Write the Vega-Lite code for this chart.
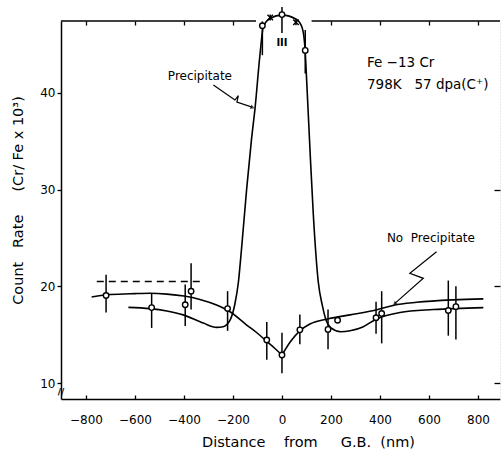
{
  "$schema": "https://vega.github.io/schema/vega-lite/v6.json",
  "width": 439,
  "height": 378,
  "autosize": {"type": "none"},
  "padding": {"left": 61, "top": 21, "right": 1, "bottom": 57},
  "background": "white",
  "config": {
    "view": {"stroke": null},
    "font": "DejaVu Sans",
    "axis": {"domainColor": "black", "tickColor": "black", "labelColor": "black", "titleColor": "black", "grid": false, "domainWidth": 1.5, "tickWidth": 1.3}
  },
  "datasets": {
    "curves": [
      {"s": "npl", "d": -777, "r": 18.9}, {"s": "npl", "d": -700, "r": 19.15}, {"s": "npl", "d": -600, "r": 19.25}, {"s": "npl", "d": -540, "r": 19.28}, {"s": "npl", "d": -470, "r": 19.2}, {"s": "npl", "d": -400, "r": 19.0}, {"s": "npl", "d": -335, "r": 18.65}, {"s": "npl", "d": -267, "r": 18.07}, {"s": "npl", "d": -212, "r": 17.37}, {"s": "npl", "d": -144, "r": 16.0}, {"s": "npl", "d": -100, "r": 15.15}, {"s": "npl", "d": -62, "r": 14.3}, {"s": "npl", "d": -30, "r": 13.6}, {"s": "npl", "d": 0, "r": 12.9},
      {"s": "npr", "d": 0, "r": 12.9}, {"s": "npr", "d": 35, "r": 14.3}, {"s": "npr", "d": 73, "r": 15.4}, {"s": "npr", "d": 114, "r": 16.1}, {"s": "npr", "d": 190, "r": 16.65}, {"s": "npr", "d": 278, "r": 17.05}, {"s": "npr", "d": 384, "r": 17.55}, {"s": "npr", "d": 457, "r": 18.05}, {"s": "npr", "d": 550, "r": 18.35}, {"s": "npr", "d": 700, "r": 18.6}, {"s": "npr", "d": 822, "r": 18.7},
      {"s": "p", "d": -627, "r": 17.83}, {"s": "p", "d": -539, "r": 17.7}, {"s": "p", "d": -470, "r": 17.45}, {"s": "p", "d": -403, "r": 17.05}, {"s": "p", "d": -321, "r": 16.2}, {"s": "p", "d": -267, "r": 15.76}, {"s": "p", "d": -240, "r": 15.82}, {"s": "p", "d": -212, "r": 16.5}, {"s": "p", "d": -192, "r": 18.2}, {"s": "p", "d": -178, "r": 20.4}, {"s": "p", "d": -165, "r": 23.9}, {"s": "p", "d": -144, "r": 30.1}, {"s": "p", "d": -124, "r": 35.3}, {"s": "p", "d": -110, "r": 38.4}, {"s": "p", "d": -90, "r": 43.9}, {"s": "p", "d": -76, "r": 46.85}, {"s": "p", "d": -49, "r": 47.7}, {"s": "p", "d": 0, "r": 48.05}, {"s": "p", "d": 60, "r": 47.6}, {"s": "p", "d": 83, "r": 46.7}, {"s": "p", "d": 94, "r": 44.6}, {"s": "p", "d": 101, "r": 41.2}, {"s": "p", "d": 114, "r": 34.3}, {"s": "p", "d": 128, "r": 27.4}, {"s": "p", "d": 148, "r": 20.5}, {"s": "p", "d": 165, "r": 18.0}, {"s": "p", "d": 180, "r": 16.5}, {"s": "p", "d": 200, "r": 15.7}, {"s": "p", "d": 240, "r": 15.3}, {"s": "p", "d": 278, "r": 15.4}, {"s": "p", "d": 330, "r": 15.8}, {"s": "p", "d": 384, "r": 16.6}, {"s": "p", "d": 482, "r": 17.3}, {"s": "p", "d": 618, "r": 17.6}, {"s": "p", "d": 822, "r": 17.8}
    ],
    "points": [
      {"d": -718, "r": 19.05, "lo": 17.3, "hi": 21.2, "m": "o"},
      {"d": -532, "r": 17.8, "lo": 15.7, "hi": 19.3, "m": "o"},
      {"d": -395, "r": 18.1, "lo": 15.9, "hi": 20.2, "m": "o"},
      {"d": -371, "r": 19.5, "lo": 17.6, "hi": 22.4, "m": "o"},
      {"d": -222, "r": 17.7, "lo": 15.4, "hi": 19.5, "m": "o"},
      {"d": -62, "r": 14.45, "lo": 12.4, "hi": 16.3, "m": "o"},
      {"d": 0, "r": 12.9, "lo": 11.0, "hi": 15.2, "m": "o"},
      {"d": 73, "r": 15.5, "lo": 14.0, "hi": 17.1, "m": "o"},
      {"d": 188, "r": 15.55, "lo": 13.5, "hi": 17.6, "m": "o"},
      {"d": 227, "r": 16.5, "lo": 16.5, "hi": 16.5, "m": "o"},
      {"d": 384, "r": 16.75, "lo": 15.1, "hi": 18.4, "m": "o"},
      {"d": 407, "r": 17.2, "lo": 14.1, "hi": 19.5, "m": "o"},
      {"d": 679, "r": 17.5, "lo": 14.9, "hi": 20.6, "m": "o"},
      {"d": 710, "r": 17.9, "lo": 14.5, "hi": 20.0, "m": "o"},
      {"d": -80, "r": 46.95, "lo": 43.9, "hi": 47.4, "m": "o"},
      {"d": -48, "r": 47.8, "lo": 47.5, "hi": 48.1, "m": "x"},
      {"d": 0, "r": 48.1, "lo": 46.2, "hi": 48.9, "m": "o"},
      {"d": 57, "r": 47.3, "lo": 47.0, "hi": 47.6, "m": "x"},
      {"d": 95, "r": 44.4, "lo": 42.0, "hi": 46.5, "m": "o"}
    ],
    "dash": [{"d": -756, "d2": -332, "r": 20.5}],
    "frame": [{"d": -902, "d2": -106}, {"d": 121, "d2": 890}],
    "leaders": [
      {"s": "a1", "i": 1, "d": -280, "r": 40.82}, {"s": "a1", "i": 2, "d": -192, "r": 39.27}, {"s": "a1", "i": 3, "d": -178, "r": 39.73}, {"s": "a1", "i": 4, "d": -184, "r": 39.06}, {"s": "a1", "i": 5, "d": -122, "r": 38.54},
      {"s": "a2", "i": 1, "d": 631, "r": 23.58}, {"s": "a2", "i": 2, "d": 522, "r": 21.34}, {"s": "a2", "i": 3, "d": 577, "r": 20.83}, {"s": "a2", "i": 4, "d": 461, "r": 18.24}
    ],
    "tips": [{"s": "a1", "d": -120, "r": 38.5}, {"s": "a2", "d": 460, "r": 18.2}],
    "notesSmall": [{"d": -335, "r": 41.75, "t": "Precipitate"}, {"d": 608, "r": 25.0, "t": "No\u00a0 Precipitate"}],
    "notesBig": [{"d": 347, "r": 43.1, "t": "Fe −13 Cr"}, {"d": 347, "r": 40.8, "t": "798K\u00a0\u00a0 57 dpa(C⁺)"}],
    "notesTiny": [{"d": 0, "r": 45.2, "t": "III"}],
    "brk": [{"d": -902, "r": 9.1, "t": "//"}]
  },
  "layer": [
    {
      "data": {"name": "curves"},
      "mark": {"type": "line", "interpolate": "monotone", "color": "black", "strokeWidth": 1.6},
      "encoding": {
        "x": {"field": "d", "type": "quantitative", "scale": {"domain": [-902, 890], "nice": false, "zero": false},
          "axis": {"orient": "bottom", "values": [-800, -600, -400, -200, 0, 200, 400, 600, 800], "tickSize": -4, "labelPadding": 19, "labelFontSize": 12, "labelFont": "DejaVu Sans", "title": "Distance\u00a0\u00a0\u00a0 from\u00a0\u00a0\u00a0\u00a0 G.B.\u00a0 (nm)", "titleFontSize": 14.5, "titleFontWeight": "normal", "titlePadding": 10, "titleX": 247}},
        "y": {"field": "r", "type": "quantitative", "scale": {"domain": [8.35, 47.44], "nice": false, "zero": false},
          "axis": {"orient": "left", "values": [10, 20, 30, 40], "tickSize": 4, "labelPadding": 2, "labelFontSize": 12, "title": "Count\u00a0\u00a0 Rate\u00a0\u00a0\u00a0\u00a0 (Cr/ Fe x 10³)", "titleFontSize": 14.5, "titleFontWeight": "normal", "titlePadding": 14, "titleY": 179}},
        "detail": {"field": "s"}
      }
    },
    {
      "data": {"name": "points"},
      "mark": {"type": "rule", "color": "black", "strokeWidth": 1.5},
      "encoding": {
        "x": {"field": "d", "type": "quantitative", "axis": {"orient": "top", "values": [-800, -600, -400, -200, 200, 400, 600, 800], "labels": false, "domain": false, "tickSize": -4, "title": null}},
        "y": {"field": "lo", "type": "quantitative", "axis": {"orient": "right", "values": [10, 20, 30], "labels": false, "domainColor": "#d0d0d0", "domainWidth": 1, "domainDash": [1, 2], "tickSize": -6, "title": null}},
        "y2": {"field": "hi"}
      }
    },
    {
      "data": {"name": "points"},
      "mark": {"type": "point", "filled": false, "fill": "white", "fillOpacity": 1, "stroke": "black", "strokeWidth": 1.4, "size": 30, "opacity": 1},
      "encoding": {
        "x": {"field": "d", "type": "quantitative", "axis": null},
        "y": {"field": "r", "type": "quantitative", "axis": null},
        "shape": {"field": "m", "type": "nominal", "scale": {"domain": ["o", "x"], "range": ["circle", "M-1,-1L1,1M-1,1L1,-1"]}, "legend": null}
      }
    },
    {
      "data": {"name": "dash"},
      "mark": {"type": "rule", "color": "black", "strokeWidth": 1.5, "strokeDash": [7, 5]},
      "encoding": {
        "x": {"field": "d", "type": "quantitative", "axis": null},
        "x2": {"field": "d2"},
        "y": {"field": "r", "type": "quantitative", "axis": null}
      }
    },
    {
      "data": {"name": "frame"},
      "mark": {"type": "rule", "color": "black", "strokeWidth": 1.5},
      "encoding": {
        "x": {"field": "d", "type": "quantitative", "axis": null},
        "x2": {"field": "d2"},
        "y": {"datum": 47.44, "type": "quantitative", "axis": null}
      }
    },
    {
      "data": {"name": "leaders"},
      "mark": {"type": "line", "color": "black", "strokeWidth": 1.2},
      "encoding": {
        "x": {"field": "d", "type": "quantitative", "axis": null},
        "y": {"field": "r", "type": "quantitative", "axis": null},
        "detail": {"field": "s"},
        "order": {"field": "i"}
      }
    },
    {
      "data": {"name": "tips"},
      "transform": [{"filter": "datum.s === 'a1'"}],
      "mark": {"type": "point", "shape": "triangle-right", "filled": true, "color": "black", "size": 22, "angle": 20},
      "encoding": {
        "x": {"field": "d", "type": "quantitative", "axis": null},
        "y": {"field": "r", "type": "quantitative", "axis": null}
      }
    },
    {
      "data": {"name": "tips"},
      "transform": [{"filter": "datum.s === 'a2'"}],
      "mark": {"type": "point", "shape": "triangle-right", "filled": true, "color": "black", "size": 22, "angle": 138},
      "encoding": {
        "x": {"field": "d", "type": "quantitative", "axis": null},
        "y": {"field": "r", "type": "quantitative", "axis": null}
      }
    },
    {
      "data": {"name": "notesSmall"},
      "mark": {"type": "text", "font": "DejaVu Sans", "fontSize": 12, "color": "black", "align": "center", "baseline": "middle"},
      "encoding": {
        "x": {"field": "d", "type": "quantitative", "axis": null},
        "y": {"field": "r", "type": "quantitative", "axis": null},
        "text": {"field": "t"}
      }
    },
    {
      "data": {"name": "notesBig"},
      "mark": {"type": "text", "font": "DejaVu Sans", "fontSize": 13.5, "color": "black", "align": "left", "baseline": "middle"},
      "encoding": {
        "x": {"field": "d", "type": "quantitative", "axis": null},
        "y": {"field": "r", "type": "quantitative", "axis": null},
        "text": {"field": "t"}
      }
    },
    {
      "data": {"name": "notesTiny"},
      "mark": {"type": "text", "font": "DejaVu Sans", "fontSize": 10, "fontWeight": "bold", "color": "black", "align": "center", "baseline": "middle"},
      "encoding": {
        "x": {"field": "d", "type": "quantitative", "axis": null},
        "y": {"field": "r", "type": "quantitative", "axis": null},
        "text": {"field": "t"}
      }
    },
    {
      "data": {"name": "brk"},
      "mark": {"type": "text", "font": "DejaVu Sans", "fontSize": 9, "fontWeight": "bold", "color": "black", "align": "center", "baseline": "middle"},
      "encoding": {
        "x": {"field": "d", "type": "quantitative", "axis": null},
        "y": {"field": "r", "type": "quantitative", "axis": null},
        "text": {"field": "t"}
      }
    }
  ],
  "resolve": {"axis": {"x": "independent", "y": "independent"}}
}
